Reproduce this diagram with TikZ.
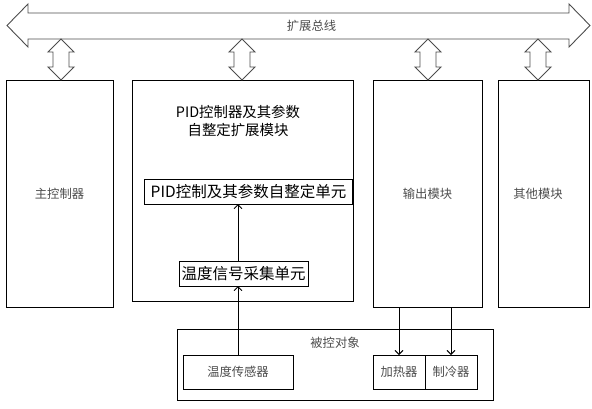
\documentclass[tikz,border=0pt]{standalone}
\usepackage{fontspec}
\setmainfont{Noto Sans CJK SC}
\usetikzlibrary{arrows.meta, positioning}

\begin{document}
\begin{tikzpicture}[
  x=1pt, y=-1pt,
  box/.style={draw, line width=0.9pt, inner sep=0pt, outer sep=0pt},
  lbl/.style={text=black!70, font=\fontsize{12.3}{14}\selectfont},
  unit/.style={box, font=\fontsize{15.5}{18}\selectfont},
  dbl/.style={draw=black!70, line width=0.9pt, line join=miter},
  arr/.style={-{Straight Barb[length=4pt, width=8pt]}, line width=0.9pt}
]
\useasboundingbox (0,0) rectangle (592,408);

% bus
\node[lbl] (bus) at (311.5,26) {扩展总线};
\draw[dbl] (7,25.5) -- (28,4) -- (28,13) -- (569,13) -- (569,4) -- (590,25.5)
  -- (569,47) -- (569,39) -- (28,39) -- (28,47) -- cycle;

% modules
\node[box, lbl, minimum width=107pt, minimum height=227pt] (main) at (59.5,193.5) {主控制器};
\node[box, minimum width=221pt, minimum height=221pt] (pidmod) at (242.5,190.5) {};
\node[font=\fontsize{14.4}{18}\selectfont, align=center] (pidtitle) at (238,121) {PID控制器及其参数\\自整定扩展模块};
\node[unit, minimum width=208pt, minimum height=25pt] (pidunit) at (248.5,191.5) {PID控制及其参数自整定单元};
\node[unit, minimum width=129pt, minimum height=25pt] (acq) at (243.5,273.5) {温度信号采集单元};
\node[box, lbl, minimum width=109pt, minimum height=227pt] (out) at (427.5,193.5) {输出模块};
\node[box, minimum width=91pt, minimum height=227pt] (other) at (543.5,193.5) {};
\node[lbl] (otherlbl) at (538,194) {其他模块};

% controlled object
\node[box, minimum width=316pt, minimum height=71pt] (plant) at (335,364.5) {};
\node[lbl] (plantlbl) at (335,343) {被控对象};
\node[box, lbl, minimum width=110pt, minimum height=34pt] (sensor) at (238,372) {温度传感器};
\node[box, lbl, minimum width=52pt, minimum height=34pt] (heater) at (399,372) {加热器};
\node[box, lbl, minimum width=52pt, minimum height=34pt] (cooler) at (451,372) {制冷器};

\foreach \n/\dx in {main/1.5, pidmod/-0.5, out/0.5, other/-5.5}
  \draw[dbl] ([xshift=\dx pt]\n.north) -- ++(-13,-13) -- ++(5,0) -- ++(0,-15) -- ++(-5,0)
    -- ++(13,-13) -- ++(13,13) -- ++(-5,0) -- ++(0,15) -- ++(5,0) -- cycle;

\draw[arr] (sensor.north) -- (sensor.north |- acq.south);
\draw[arr] (sensor.north |- acq.north) -- (sensor.north |- pidunit.south);
\draw[arr] (heater.north |- out.south) -- (heater.north);
\draw[arr] (cooler.north |- out.south) -- (cooler.north);
\end{tikzpicture}
\end{document}
